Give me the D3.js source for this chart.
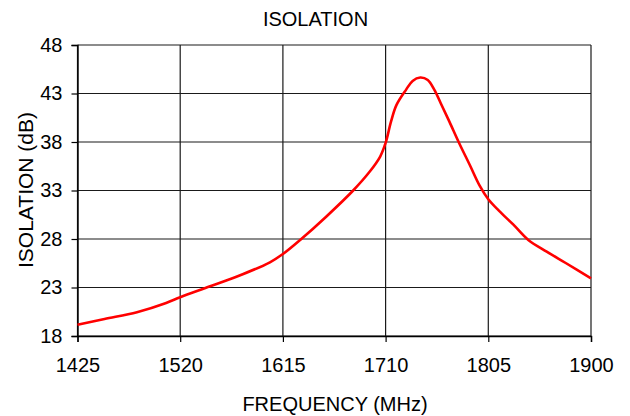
<!DOCTYPE html>
<html>
<head>
<meta charset="utf-8">
<script src="https://cdn.jsdelivr.net/npm/d3@7"></script>
<style>
  html, body { margin: 0; padding: 0; background: #fff; }
  svg { display: block; font-family: "Liberation Sans", Arial, sans-serif; }
</style>
</head>
<body>
<svg id="chart" width="630" height="416"></svg>
<script>
const title = "ISOLATION";
const xLabel = "FREQUENCY (MHz)";
const yLabel = "ISOLATION (dB)";
const xTicks = [1425, 1520, 1615, 1710, 1805, 1900];
const yTicks = [18, 23, 28, 33, 38, 43, 48];
const freq = [1425, 1450, 1480, 1507, 1520, 1542, 1572, 1603, 1615, 1632, 1655, 1680, 1695, 1705, 1710, 1715, 1720, 1729, 1735, 1742, 1749, 1755, 1761, 1769, 1778, 1788, 1797, 1805, 1815, 1828, 1842, 1859, 1877, 1900];
const isolation = [19.15, 19.75, 20.45, 21.4, 22.0, 22.9, 24.1, 25.6, 26.45, 28.0, 30.3, 33.0, 34.9, 36.5, 37.9, 40.1, 41.8, 43.4, 44.3, 44.65, 44.4, 43.4, 42.0, 40.1, 37.9, 35.6, 33.5, 32.1, 30.9, 29.5, 27.9, 26.7, 25.5, 23.95];

const svg = d3.select("#chart");
const m = { left: 77.5, right: 591, top: 45, bottom: 336 };

const x = d3.scaleLinear().domain([1425, 1900]).range([m.left, m.right]);
const y = d3.scaleLinear().domain([18, 48]).range([m.bottom, m.top]);

// gridlines
svg.append("g").selectAll("line.v").data(xTicks).join("line")
  .attr("x1", d => x(d)).attr("x2", d => x(d))
  .attr("y1", m.top).attr("y2", m.bottom)
  .attr("stroke", "#1a1a1a").attr("stroke-width", 1.2);
svg.append("g").selectAll("line.h").data(yTicks).join("line")
  .attr("x1", m.left).attr("x2", m.right)
  .attr("y1", d => y(d)).attr("y2", d => y(d))
  .attr("stroke", "#1a1a1a").attr("stroke-width", 1.2);

// axes
const xAxis = d3.axisBottom(x).tickValues(xTicks).tickSize(6).tickPadding(16).tickFormat(d3.format("d"));
const gx = svg.append("g").attr("transform", `translate(0,${m.bottom})`).call(xAxis);
gx.select(".domain").attr("stroke", "#000").attr("stroke-width", 1.4);
gx.selectAll(".tick line").attr("stroke", "#000").attr("stroke-width", 1.2);
gx.selectAll("text").attr("font-size", 20).attr("fill", "#000").attr("font-family", "Liberation Sans, Arial, sans-serif");

const yAxis = d3.axisLeft(y).tickValues(yTicks).tickSize(6).tickPadding(9).tickFormat(d3.format("d"));
const gy = svg.append("g").attr("transform", `translate(${m.left},0)`).call(yAxis);
gy.select(".domain").attr("stroke", "#000").attr("stroke-width", 1.4);
gy.selectAll(".tick line").attr("stroke", "#000").attr("stroke-width", 1.2);
gy.selectAll("text").attr("font-size", 20).attr("fill", "#000").attr("font-family", "Liberation Sans, Arial, sans-serif");

// curve
const pts = freq.map((f, i) => [f, isolation[i]]);
const line = d3.line().x(d => x(d[0])).y(d => y(d[1])).curve(d3.curveCatmullRom.alpha(0.5));
svg.append("path").datum(pts)
  .attr("d", line)
  .attr("fill", "none")
  .attr("stroke", "#ff0000")
  .attr("stroke-width", 2.6)
  .attr("stroke-linejoin", "round");

// texts
svg.append("text").attr("x", 315.5).attr("y", 26).attr("text-anchor", "middle")
  .attr("font-size", 20).attr("fill", "#000").text(title);
svg.append("text").attr("x", 335).attr("y", 411).attr("text-anchor", "middle")
  .attr("font-size", 20).attr("fill", "#000").text(xLabel);
svg.append("text").attr("transform", "translate(33,190) rotate(-90)").attr("text-anchor", "middle")
  .attr("font-size", 21).attr("fill", "#000").text(yLabel);
</script>
</body>
</html>
